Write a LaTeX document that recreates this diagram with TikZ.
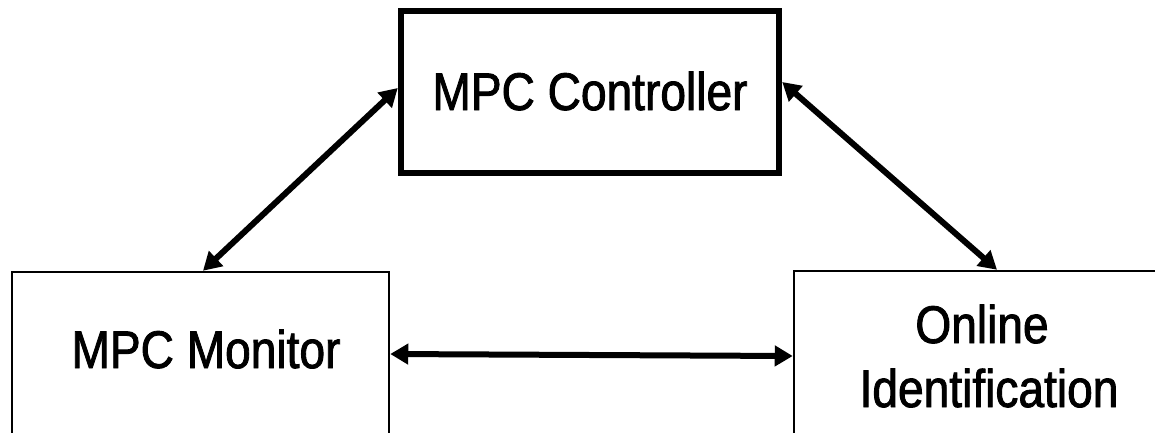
\documentclass[tikz,border=0pt]{standalone}
\usepackage{fontspec}
\setmainfont{Liberation Sans}[FakeStretch=0.87,FakeBold=1.6]
\usetikzlibrary{arrows.meta,calc}
\begin{document}
\begin{tikzpicture}[x=1pt,y=-1pt,
  thinbox/.style={draw,line width=2.5pt,inner sep=0pt},
  thickbox/.style={draw,line width=6.5pt,inner sep=0pt},
  lbl/.style={font=\fontsize{53}{64}\selectfont,inner sep=0pt,anchor=base},
  link/.style={line width=6pt,{Triangle[length=18pt,width=20pt]}-{Triangle[length=18pt,width=20pt]}}]
\useasboundingbox (0,0) rectangle (1155,432);
\fill[white] (0,0) rectangle (1155,432);
\clip (0,0) rectangle (1155,432);
% boxes
\node[thickbox,minimum width=378pt,minimum height=162pt] (ctrl) at (590,92) {};
\node[thinbox,minimum width=377pt,minimum height=164pt] (mon) at (200.5,354) {};
\node[thinbox,minimum width=406pt,minimum height=170pt] (onl) at (997,356) {};
% labels
\node[lbl] (tctrl) at (590,110) {MPC Controller};
\node[lbl] (tmon) at (206,368) {MPC Monitor};
\node[lbl] (tonla) at (982,343) {Online};
\node[lbl] (tonlb) at (989,407) {Identification};
% connectors
\draw[link] ($(mon.north)+(2.5,0)$) -- ($(ctrl.west)+(0,-4)$);
\draw[link] ($(ctrl.east)+(0,-10)$) -- (onl.north);
\draw[link] (mon.east) -- (onl.west);
\end{tikzpicture}
\end{document}
